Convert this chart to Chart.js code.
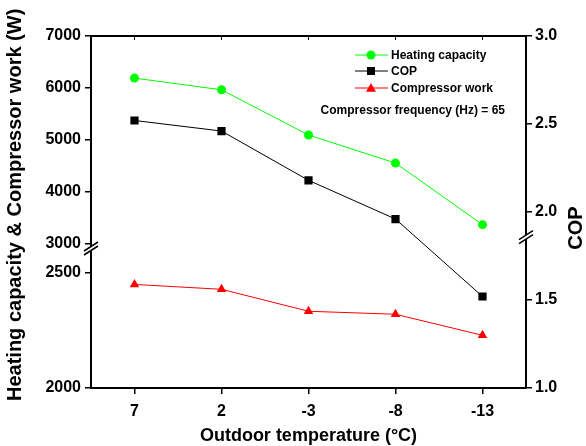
<!DOCTYPE html>
<html>
<head>
<meta charset="utf-8">
<script src="https://cdn.jsdelivr.net/npm/chart.js@4/dist/chart.umd.min.js"></script>
<style>
  html, body { margin: 0; padding: 0; background: #fff; }
  #wrap { width: 586px; height: 446px; }
</style>
</head>
<body>
<div id="wrap"><canvas id="chart"></canvas></div>
<script>
const temps = ["7", "2", "-3", "-8", "-13"];
const heating = [6190, 5965, 5095, 4555, 3370];
const cop = [2.52, 2.46, 2.18, 1.96, 1.52];
const compressor = [2448, 2427, 2332, 2319, 2228];

const topTicks = [3000, 4000, 5000, 6000, 7000];
const bottomTicks = [2000, 2500];
const copTicks = [1.0, 1.5, 2.0, 2.5, 3.0];

const FONT = "'Liberation Sans', Arial, sans-serif";
Chart.defaults.font.family = FONT;
Chart.defaults.color = "#000";

const tickFont = { family: FONT, size: 16, weight: "bold" };

function yAxis(opts) {
  return Object.assign({
    type: "linear",
    border: { color: "#000", width: 2 },
    grid: { drawOnChartArea: false, color: "#000", lineWidth: 1.5, tickLength: 6 },
    ticks: {
      font: tickFont, color: "#000", padding: 4, autoSkip: false,
      callback: (v) => String(v),
    },
  }, opts);
}

function drawMarker(ctx, style, x, y, r, color) {
  ctx.fillStyle = color;
  ctx.beginPath();
  if (style === "circle") {
    ctx.arc(x, y, r, 0, Math.PI * 2);
  } else if (style === "rect") {
    ctx.rect(x - r, y - r, r * 2, r * 2);
  } else {
    ctx.moveTo(x, y - r);
    ctx.lineTo(x + r, y + r * 0.75);
    ctx.lineTo(x - r, y + r * 0.75);
    ctx.closePath();
  }
  ctx.fill();
}

function breakMark(ctx, x, y) {
  ctx.save();
  ctx.fillStyle = "#fff";
  ctx.beginPath();
  ctx.moveTo(x - 7, y + 3);
  ctx.lineTo(x + 7, y - 6);
  ctx.lineTo(x + 7, y - 2);
  ctx.lineTo(x - 7, y + 7);
  ctx.closePath();
  ctx.fill();
  ctx.strokeStyle = "#000";
  ctx.lineWidth = 1.5;
  ctx.beginPath();
  ctx.moveTo(x - 7, y + 3);
  ctx.lineTo(x + 7, y - 6);
  ctx.moveTo(x - 7, y + 7);
  ctx.lineTo(x + 7, y - 2);
  ctx.stroke();
  ctx.restore();
}

const decor = {
  id: "decor",
  afterDraw(chart) {
    const ctx = chart.ctx;
    const a = chart.chartArea;
    const x = chart.scales.x;
    ctx.save();
    // top frame + inner ticks
    ctx.strokeStyle = "#000";
    ctx.lineWidth = 2;
    ctx.beginPath();
    ctx.moveTo(a.left - 1, a.top);
    ctx.lineTo(a.right + 1, a.top);
    ctx.stroke();
    ctx.lineWidth = 1;
    ctx.beginPath();
    temps.forEach((t, i) => {
      const px = x.getPixelForValue(i);
      ctx.moveTo(px, a.top);
      ctx.lineTo(px, a.top + 4);
    });
    ctx.stroke();

    // axis breaks
    breakMark(ctx, a.left, chart.scales.yTop.bottom + 1);
    breakMark(ctx, a.right, chart.scales.yR.getPixelForValue(1.86));

    // titles
    ctx.fillStyle = "#000";
    ctx.font = "bold 20px " + FONT;
    ctx.textBaseline = "middle";
    ctx.save();
    ctx.translate(15, 401);
    ctx.rotate(-Math.PI / 2);
    ctx.textAlign = "left";
    ctx.fillText("Heating capacity & Compressor work (W)", 0, 0);
    ctx.restore();

    ctx.save();
    ctx.translate(576, 228);
    ctx.rotate(-Math.PI / 2);
    ctx.textAlign = "center";
    ctx.fillText("COP", 0, 0);
    ctx.restore();

    ctx.font = "bold 18px " + FONT;
    ctx.textAlign = "center";
    ctx.fillText("Outdoor temperature (\u00B0C)", (a.left + a.right) / 2, 436);

    // legend inside plot
    const rows = [55, 71, 88];
    const styles = [["circle", 4.5], ["rect", 4], ["triangle", 5]];
    ctx.font = "bold 12px " + FONT;
    ctx.textAlign = "left";
    chart.data.datasets.forEach((ds, i) => {
      const y = rows[i];
      ctx.strokeStyle = ds.borderColor;
      ctx.lineWidth = 1;
      ctx.beginPath();
      ctx.moveTo(355, y);
      ctx.lineTo(388, y);
      ctx.stroke();
      drawMarker(ctx, styles[i][0], 371, y, styles[i][1], ds.borderColor);
      ctx.fillStyle = "#000";
      ctx.fillText(ds.label, 391, y + 1);
    });
    ctx.textAlign = "right";
    ctx.fillText("Compressor frequency (Hz) = 65", 505, 111);
    ctx.restore();
  }
};

new Chart(document.getElementById("chart"), {
  type: "line",
  data: {
    labels: temps,
    datasets: [
      {
        label: "Heating capacity",
        data: heating,
        yAxisID: "yTop",
        borderColor: "#00ff00",
        backgroundColor: "#00ff00",
        borderWidth: 1,
        pointStyle: "circle",
        pointRadius: 4.5,
        pointBorderWidth: 0,
      },
      {
        label: "COP",
        data: cop,
        yAxisID: "yR",
        borderColor: "#000000",
        backgroundColor: "#000000",
        borderWidth: 1,
        pointStyle: "rect",
        pointRadius: 5.8,
        pointBorderWidth: 0,
      },
      {
        label: "Compressor work",
        data: compressor,
        yAxisID: "yBot",
        borderColor: "#ff0000",
        backgroundColor: "#ff0000",
        borderWidth: 1,
        pointStyle: "triangle",
        pointRadius: 5.5,
        pointBorderWidth: 0,
      },
    ],
  },
  options: {
    responsive: true,
    maintainAspectRatio: false,
    animation: false,
    devicePixelRatio: 1,
    layout: { padding: { top: 36, left: 0, right: 0, bottom: 0 } },
    plugins: { legend: { display: false }, tooltip: { enabled: false } },
    scales: {
      x: {
        type: "category",
        offset: true,
        border: { color: "#000", width: 2 },
        grid: { drawOnChartArea: false, offset: false, color: "#000", lineWidth: 1.5, tickLength: 6 },
        ticks: { font: tickFont, color: "#000", padding: 8, maxRotation: 0 },
        afterFit: (s) => { s.height = 58; },
      },
      yBot: yAxis({
        position: "left",
        stack: "left",
        stackWeight: 141,
        min: 2000,
        max: 2610,
        afterBuildTicks: (s) => { s.ticks = bottomTicks.map((v) => ({ value: v })); },
        afterFit: (s) => { s.width = 91; },
      }),
      yTop: yAxis({
        position: "left",
        stack: "left",
        stackWeight: 211,
        min: 2940,
        max: 7000,
        afterBuildTicks: (s) => { s.ticks = topTicks.map((v) => ({ value: v })); },
        afterFit: (s) => { s.width = 91; },
      }),
      yR: yAxis({
        position: "right",
        min: 1,
        max: 3,
        afterBuildTicks: (s) => { s.ticks = copTicks.map((v) => ({ value: v })); },
        afterFit: (s) => { s.width = 60; },
        ticks: {
          font: tickFont, color: "#000", padding: 3, autoSkip: false,
          callback: (v) => Number(v).toFixed(1),
        },
      }),
    },
  },
  plugins: [decor],
});
</script>
</body>
</html>
